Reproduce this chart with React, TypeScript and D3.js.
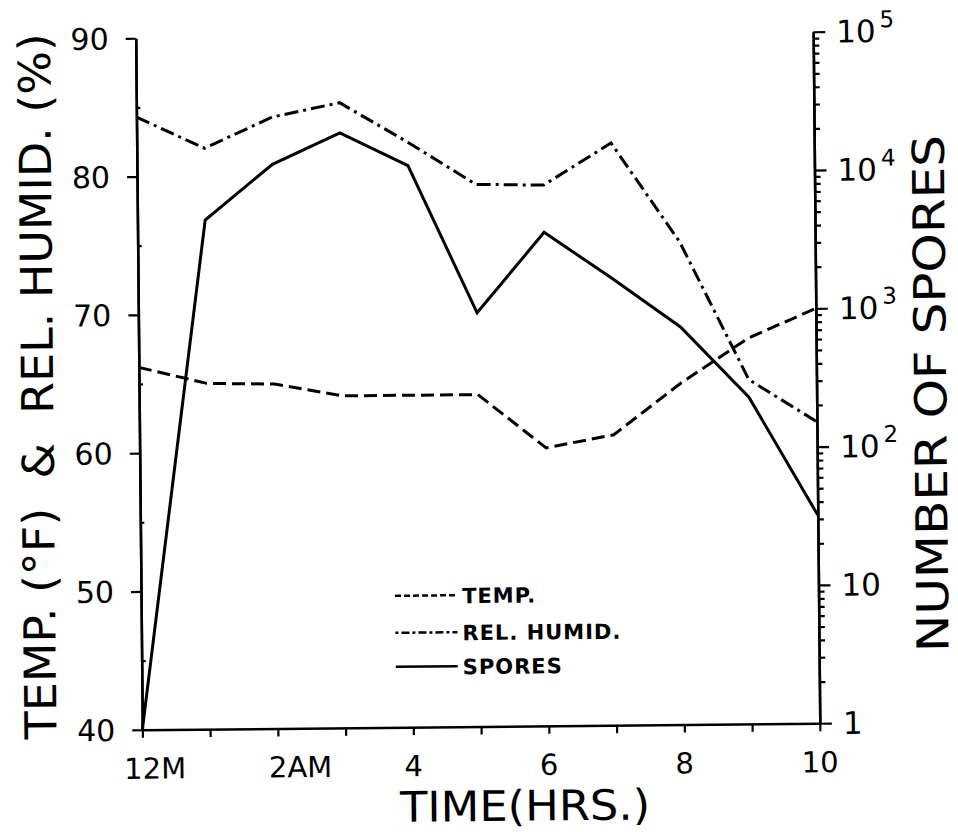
import React, { useEffect, useRef } from 'react';
import * as d3 from 'd3';

// values, one per hour from midnight
const hours = [0, 1, 2, 3, 4, 5, 6, 7, 8, 9, 10];
const tempF = [66.2, 65.0, 64.9, 64.0, 64.0, 64.0, 60.1, 61.0, 64.7, 67.9, 70.0];
const relHumid = [84.3, 82.0, 84.2, 85.2, 82.3, 79.2, 79.1, 82.1, 74.9, 64.9, 61.8];
const spores = [1, 4800, 12000, 20000, 11500, 980, 3700, 1700, 750, 230, 32];

const leftTicks = [40, 50, 60, 70, 80, 90];
const leftMinor = [45, 55, 65, 75, 85];
const rightTicks = [1, 10, 100, 1000, 10000, 100000];
const rightTickBase = ['1', '10', '10', '10', '10', '10'];
const rightTickExp = ['', '', '2', '3', '4', '5'];
const xLabelHours = [0, 2, 4, 6, 8, 10];
const xLabels = ['12M', '2AM', '4', '6', '8', '10'];
const legendNames = ['TEMP.', 'REL. HUMID.', 'SPORES'];

const FONT = '"DejaVu Sans", "Liberation Sans", sans-serif';

export default function App() {
  const ref = useRef<SVGSVGElement>(null);

  useEffect(() => {
    const svg = d3.select(ref.current);
    svg.selectAll('*').remove();

    const left = 139, right = 816.5, top = 35, bottom = 726.5;

    const x = d3.scaleLinear().domain([0, 10]).range([left, right]);
    const yL = d3.scaleLinear().domain([40, 90]).range([bottom, top]);
    const yR = d3.scaleLog().domain([1, 100000]).range([bottom, top]);

    // the scan is tilted a little, so is the whole drawing
    const g = svg.append('g').attr('transform', 'rotate(-0.55, 478, 381)')
      .style('font-family', FONT);

    const styleAxis = (sel: any) => {
      sel.select('.domain').attr('stroke', '#000').attr('stroke-width', 2.5);
      sel.selectAll('.tick line').attr('stroke', '#000').attr('stroke-width', 2.2);
    };

    // left axis: major ticks outwards, minor ticks inwards
    g.append('g').attr('transform', `translate(${left},0)`)
      .call(d3.axisLeft(yL).tickValues(leftTicks).tickSize(10).tickSizeOuter(0).tickFormat(() => ''))
      .call(styleAxis);
    g.append('g').attr('transform', `translate(${left},0)`)
      .call(d3.axisRight(yL).tickValues(leftMinor).tickSize(4).tickSizeOuter(0).tickFormat(() => ''))
      .call(styleAxis);
    g.append('g').selectAll('text').data(leftTicks).enter().append('text')
      .attr('x', left - 27).attr('y', d => yL(d) + 11)
      .attr('text-anchor', 'end').attr('font-size', 30).text(d => d);

    // right axis (log)
    const minor = yR.ticks().filter(v => !rightTicks.includes(v));
    g.append('g').attr('transform', `translate(${right},0)`)
      .call(d3.axisRight(yR).tickValues(rightTicks).tickSize(12).tickSizeOuter(0).tickFormat(() => ''))
      .call(styleAxis);
    g.append('g').attr('transform', `translate(${right},0)`)
      .call(d3.axisRight(yR).tickValues(minor).tickSize(6).tickSizeOuter(0).tickFormat(() => ''))
      .call(styleAxis);
    const rl = g.append('g').selectAll('text').data(rightTicks).enter().append('text')
      .attr('x', right + 23).attr('y', d => yR(d) + 11).attr('font-size', 31);
    rl.append('tspan').text((d, i) => rightTickBase[i]);
    rl.append('tspan').attr('dy', -15).attr('dx', 4).attr('font-size', 23).text((d, i) => rightTickExp[i]);

    // x axis
    g.append('g').attr('transform', `translate(0,${bottom})`)
      .call(d3.axisBottom(x).tickValues(hours).tickSize(8).tickSizeOuter(0).tickFormat(() => ''))
      .call(styleAxis);
    g.append('g').selectAll('text').data(xLabelHours).enter().append('text')
      .attr('y', bottom + 49).attr('font-size', 29)
      .text((d, i) => xLabels[i])
      .each(function (d, i) {
        // centre the numeric part on the tick, suffix trails
        const num = xLabels[i].match(/^\d+/)![0];
        const w = (this as SVGTextElement).getSubStringLength(0, num.length);
        d3.select(this).attr('x', x(d) - w / 2);
      });

    // series
    const lineL = (vals: number[]) => d3.line<number>().x((d, i) => x(hours[i])).y(d => yL(d))(vals);
    const lineR = d3.line<number>().x((d, i) => x(hours[i])).y(d => yR(d));

    g.append('path').attr('d', lineL(tempF)).attr('fill', 'none').attr('stroke', '#000')
      .attr('stroke-width', 3).attr('stroke-dasharray', '13 6');
    g.append('path').attr('d', lineL(relHumid)).attr('fill', 'none').attr('stroke', '#000')
      .attr('stroke-width', 3).attr('stroke-dasharray', '14 5 3 5');
    g.append('path').attr('d', lineR(spores)).attr('fill', 'none').attr('stroke', '#000')
      .attr('stroke-width', 3);

    // legend
    const dashes = ['6 3', '3 3 8 3', null];
    const leg = g.append('g').selectAll('g').data(legendNames).enter().append('g')
      .attr('transform', (d, i) => `translate(393,${[595, 632, 666][i]})`);
    leg.append('line').attr('x1', 0).attr('x2', 62).attr('stroke', '#000').attr('stroke-width', 2.5)
      .attr('stroke-dasharray', (d, i) => dashes[i]);
    leg.append('text').attr('x', 67).attr('y', 8).attr('font-size', 21).attr('font-weight', 'bold')
      .attr('letter-spacing', 1).text(d => d);

    // axis titles (baseline on the right side of the rotated text)
    g.append('text').attr('transform', 'translate(53,382) rotate(-90)')
      .attr('text-anchor', 'middle')
      .attr('font-size', 44).attr('textLength', 706).attr('lengthAdjust', 'spacingAndGlyphs')
      .style('white-space', 'pre')
      .text('TEMP. (°F)  &  REL. HUMID. (%)');
    g.append('text').attr('transform', 'translate(946,398) rotate(-90)')
      .attr('text-anchor', 'middle')
      .attr('font-size', 44).attr('textLength', 517).attr('lengthAdjust', 'spacingAndGlyphs')
      .text('NUMBER OF SPORES');
    g.append('text').attr('x', 521).attr('y', 821)
      .attr('text-anchor', 'middle').attr('font-size', 42)
      .attr('textLength', 250).attr('lengthAdjust', 'spacingAndGlyphs')
      .text('TIME(HRS.)');
  }, []);

  return (
    <div style={{ position: 'absolute', left: 0, top: 0 }}>
      <svg ref={ref} width={958} height={832} style={{ display: 'block', background: '#fff' }} />
    </div>
  );
}
